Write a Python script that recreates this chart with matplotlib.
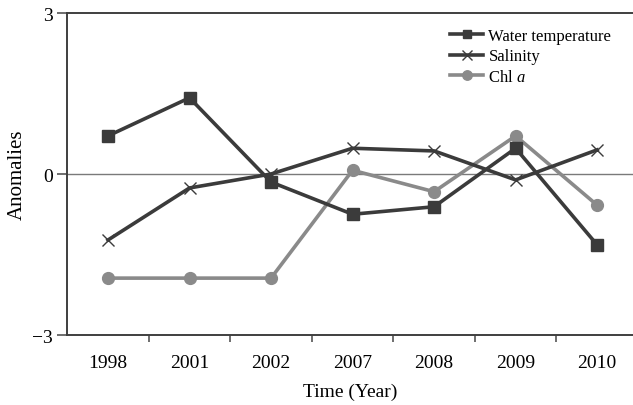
import numpy as np
import matplotlib
matplotlib.use("Agg")
import matplotlib.pyplot as plt

plt.rcParams["font.family"] = ["Liberation Serif", "DejaVu Serif"]
plt.rcParams["mathtext.fontset"] = "custom"
plt.rcParams["mathtext.rm"] = "Liberation Serif"
plt.rcParams["mathtext.it"] = "Liberation Serif:italic"

# Data
years = ["1998", "2001", "2002", "2007", "2008", "2009", "2010"]
water_temp = [0.71, 1.42, -0.15, -0.75, -0.61, 0.48, -1.32]
salinity = [-1.23, -0.26, 0.0, 0.48, 0.43, -0.11, 0.45]
chl_a = [-1.94, -1.94, -1.94, 0.07, -0.33, 0.71, -0.58]

x = np.arange(len(years))

fig = plt.figure(figsize=(6.33, 4.06), dpi=100)
ax = fig.add_axes([0.1058, 0.1724, 0.8942, 0.7931])

ax.axhline(0, color="#7a7a7a", linewidth=1.0, zorder=1)

ax.plot(x, water_temp, color="#3b3b3b", linewidth=2.6, marker="s",
        markersize=8, label="Water temperature", zorder=3)
ax.plot(x, salinity, color="#3b3b3b", linewidth=2.6, marker="x",
        markersize=9, markeredgewidth=1.0, label="Salinity", zorder=3)
ax.plot(x, chl_a, color="#8a8a8a", linewidth=2.6, marker="o",
        markersize=8.5, label="Chl $\\it{a}$", zorder=2)

ax.set_xlim(-0.503, 6.44)
ax.set_ylim(-3, 3)

# Category axis: labels at centres, tick marks between categories
ax.set_xticks(x)
ax.set_xticklabels(years)
ax.set_xticks(x[:-1] + 0.5, minor=True)
ax.tick_params(axis="x", which="major", length=0, pad=14, labelsize=14)
ax.tick_params(axis="x", which="minor", length=5, width=1.2,
               color="#555555", direction="out")

ax.set_yticks([-3, 0, 3])
ax.set_yticklabels(["\u22123", "0", "3"])
ax.tick_params(axis="y", length=7, width=1.2, color="#555555",
               labelsize=14, pad=3)

for side in ["left", "bottom", "top"]:
    ax.spines[side].set_color("#3f3f3f")
    ax.spines[side].set_linewidth(1.4)
ax.spines["right"].set_visible(False)

ax.set_xlabel("Time (Year)", fontsize=14, labelpad=8)
ax.set_ylabel("Anomalies", fontsize=15, labelpad=4)

ax.legend(loc="upper left", bbox_to_anchor=(0.711, 0.928),
          bbox_transform=fig.transFigure, frameon=False, fontsize=12,
          handlelength=2.0, handletextpad=0.3, labelspacing=0.25,
          borderpad=0, borderaxespad=0, markerscale=0.8)

fig.savefig("out.png", dpi=100)
